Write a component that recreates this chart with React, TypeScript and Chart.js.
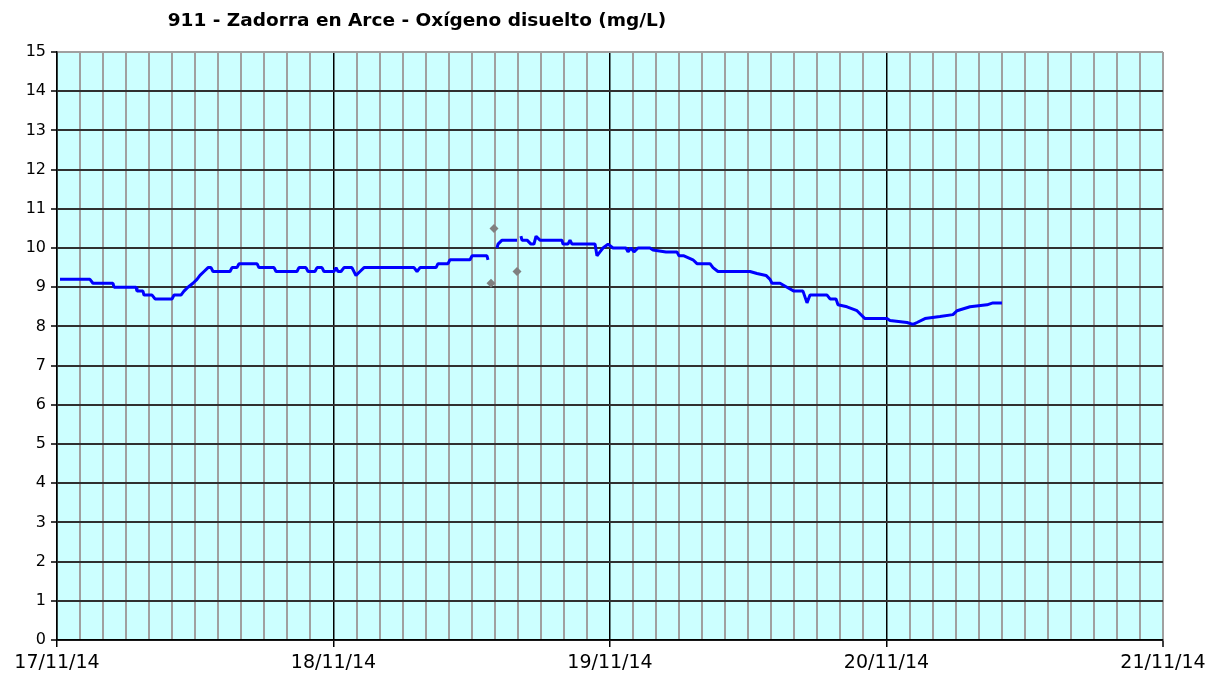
import React, { useEffect, useRef } from "react";
import { Chart, registerables } from "chart.js";

Chart.register(...registerables);

const TITLE = "911 - Zadorra en Arce - Oxígeno disuelto (mg/L)";
const DAY_LABELS = ["17/11/14", "18/11/14", "19/11/14", "20/11/14", "21/11/14"];

// hours since 17/11/14 00:00, null = gap
const HOURS: number[] = [
  0.26, 2.86, 3.12, 4.86, 4.95, 6.86, 6.94, 7.46, 7.55, 8.25, 8.51, 9.98, 10.16, 10.76, 11.02, 11.37,
  11.8, 12.15, 12.41, 12.76, 13.11, 13.37, 13.54, 15.02, 15.19, 15.62, 15.8, 17.36, 17.53, 18.84, 19.01,
  20.83, 21.0, 21.61, 21.79, 22.39, 22.57, 23.0, 23.17, 24.04, 24.22, 24.39, 24.65, 24.91, 25.6, 25.95,
  26.3, 26.65, 30.99, 31.25, 31.51, 32.9, 33.07, 33.94, 34.11, 35.85, 36.02, 37.32, 37.41,
  37.8,
  38.19, 38.28, 38.63, 39.93,
  40.1,
  40.27, 40.36, 40.8, 41.14, 41.4, 41.58, 41.92, 43.83, 43.92, 44.35, 44.53, 44.7, 46.7, 46.87, 47.13,
  47.39, 47.83, 48.26, 49.39, 49.56, 49.82, 50.08, 50.43, 51.47, 51.73, 52.86, 53.81, 53.99, 54.42,
  55.2, 55.55, 56.68, 56.94, 57.37, 60.15, 60.76, 61.54, 61.89, 62.06, 62.76, 63.36, 63.97, 64.75,
  65.1, 65.36, 66.84, 67.1, 67.62, 67.79, 68.57, 69.44, 70.13, 72.04, 72.3, 73.78, 74.3, 74.65, 75.34,
  76.64, 77.77, 78.12, 79.25, 80.72, 81.24, 82.02,
];
const OXYGEN: (number | null)[] = [
  9.2, 9.2, 9.1, 9.1, 9.0, 9.0, 8.9, 8.9, 8.8, 8.8, 8.7, 8.7, 8.8, 8.8, 8.9, 9.0,
  9.1, 9.2, 9.3, 9.4, 9.5, 9.5, 9.4, 9.4, 9.5, 9.5, 9.6, 9.6, 9.5, 9.5, 9.4,
  9.4, 9.5, 9.5, 9.4, 9.4, 9.5, 9.5, 9.4, 9.4, 9.5, 9.4, 9.4, 9.5, 9.5, 9.3,
  9.4, 9.5, 9.5, 9.4, 9.5, 9.5, 9.6, 9.6, 9.7, 9.7, 9.8, 9.8, 9.7,
  null,
  10.0, 10.1, 10.2, 10.2,
  null,
  10.3, 10.2, 10.2, 10.1, 10.1, 10.3, 10.2, 10.2, 10.1, 10.1, 10.2, 10.1, 10.1, 9.8, 9.9,
  10.0, 10.1, 10.0, 10.0, 9.9, 10.0, 9.9, 10.0, 10.0, 9.95, 9.9, 9.9, 9.8, 9.8,
  9.7, 9.6, 9.6, 9.5, 9.4, 9.4, 9.35, 9.3, 9.2, 9.1, 9.1, 9.0, 8.9, 8.9,
  8.6, 8.8, 8.8, 8.7, 8.7, 8.55, 8.5, 8.4, 8.2, 8.2, 8.15, 8.1, 8.05, 8.1, 8.2,
  8.25, 8.3, 8.4, 8.5, 8.55, 8.6, 8.6,
];
const OUTLIER_HOURS = [37.67, 37.93, 39.93];
const OUTLIER_VALUES = [9.1, 10.5, 9.4];

export default function App() {
  const ref = useRef<HTMLCanvasElement | null>(null);

  useEffect(() => {
    document.body.style.margin = "0";
    const canvas = ref.current;
    if (!canvas) return;

    const bgPlugin = {
      id: "bgfill",
      beforeDraw(chart: any) {
        const { ctx, chartArea } = chart;
        ctx.save();
        ctx.fillStyle = "#CCFFFF";
        ctx.fillRect(chartArea.left, chartArea.top, chartArea.right - chartArea.left, chartArea.bottom - chartArea.top);
        ctx.restore();
      },
    };
    const titlePlugin = {
      id: "fixedTitle",
      afterDraw(chart: any) {
        const { ctx } = chart;
        ctx.save();
        ctx.font = "bold 18.5px 'DejaVu Sans'";
        ctx.fillStyle = "#000";
        ctx.textAlign = "center";
        ctx.textBaseline = "middle";
        ctx.fillText(TITLE, 417, 21);
        ctx.restore();
      },
    };

    const chart = new Chart(canvas, {
      type: "line",
      data: {
        datasets: [
          {
            label: "Oxígeno disuelto",
            data: HOURS.map((h, i) => ({ x: h, y: OXYGEN[i] })) as any,
            borderColor: "#0000FF",
            borderWidth: 3,
            pointRadius: 0,
            spanGaps: false,
            tension: 0,
            borderJoinStyle: "bevel",
          },
          {
            label: "Outliers",
            data: OUTLIER_HOURS.map((h, i) => ({ x: h, y: OUTLIER_VALUES[i] })) as any,
            showLine: false,
            pointStyle: "rectRot",
            pointRadius: 4.5,
            pointBackgroundColor: "#808080",
            pointBorderColor: "#808080",
            borderWidth: 0,
          },
        ],
      },
      options: {
        responsive: false,
        animation: false,
        layout: { padding: { top: 52, right: 59, left: 0, bottom: 0 } },
        plugins: {
          legend: { display: false },
          title: { display: false },
          tooltip: { enabled: false },
        },
        scales: {
          x: {
            type: "linear",
            min: 0,
            max: 96,
            afterFit(scale: any) {
              scale.height = 40;
            },
            ticks: {
              stepSize: 2,
              autoSkip: false,
              maxRotation: 0,
              padding: 5,
              color: "#000",
              font: { family: "'DejaVu Sans'", size: 19 },
              callback: (v: any) => (Number(v) % 24 === 0 ? DAY_LABELS[Number(v) / 24] : ""),
            },
            grid: {
              color: (c: any) => {
                const v = c.tick ? c.tick.value : 0;
                if (v === 96) return "#A0A0A0";
                return v % 24 === 0 ? "#000000" : "#A0A0A0";
              },
              lineWidth: (c: any) => {
                const v = c.tick ? c.tick.value : 0;
                return v % 24 === 0 && v !== 96 ? 1.5 : 2;
              },
              tickColor: (c: any) => {
                const v = c.tick ? c.tick.value : 0;
                return v % 24 === 0 ? "#000000" : "rgba(0,0,0,0)";
              },
              tickLength: 7,
              tickWidth: 1.5,
            },
            border: { color: "#000", width: 1.5 },
          },
          y: {
            min: 0,
            max: 15,
            afterFit(scale: any) {
              scale.width = 57;
            },
            ticks: {
              stepSize: 1,
              padding: 5,
              color: "#000",
              font: { family: "'DejaVu Sans'", size: 16 },
            },
            grid: {
              color: (c: any) => {
                const v = c.tick ? c.tick.value : 0;
                return v === 15 ? "#A0A0A0" : "#303030";
              },
              lineWidth: 2,
              tickColor: "#000",
              tickLength: 6,
              tickWidth: 1.5,
            },
            border: { color: "#000", width: 1.5 },
          },
        },
      },
      plugins: [bgPlugin, titlePlugin],
    });

    return () => chart.destroy();
  }, []);

  return (
    <div style={{ width: 1222, height: 680 }}>
      <canvas ref={ref} width={1222} height={680} style={{ display: "block" }} />
    </div>
  );
}
